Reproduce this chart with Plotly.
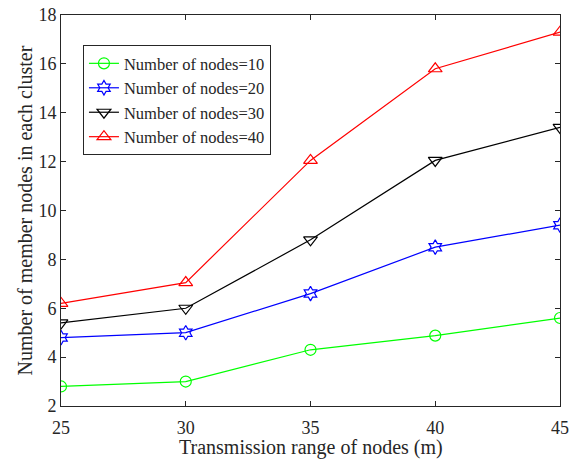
import plotly.graph_objects as go

# Transmission range of nodes (m)
ranges = [25, 30, 35, 40, 45]

# Average number of member nodes per cluster for each network size
nodes_10 = [2.8, 3.0, 4.3, 4.88, 5.6]
nodes_20 = [4.8, 5.0, 6.6, 8.5, 9.4]
nodes_30 = [5.4, 6.0, 8.8, 12.05, 13.4]
nodes_40 = [6.2, 7.05, 12.05, 15.8, 17.3]

series = [
    ("Number of nodes=10", nodes_10, "#00ff00", "circle-open", 11),
    ("Number of nodes=20", nodes_20, "#0000ff", "hexagram-open", 11),
    ("Number of nodes=30", nodes_30, "#000000", "triangle-down-open", 12),
    ("Number of nodes=40", nodes_40, "#ff0000", "triangle-up-open", 12),
]

FONT = "Liberation Serif, Times New Roman, serif"
INK = "#262626"

fig = go.Figure()
for name, vals, color, symbol, size in series:
    fig.add_trace(go.Scatter(
        x=ranges, y=vals, name=name, mode="lines+markers",
        line=dict(color=color, width=1.2),
        marker=dict(symbol=symbol, size=size, color=color,
                    line=dict(color=color, width=1.2)),
    ))

axis_common = dict(
    showgrid=False, zeroline=False, showline=True, linecolor=INK,
    linewidth=1, mirror="ticks", ticks="inside", ticklen=5,
    tickcolor=INK, tickfont=dict(family=FONT, size=18, color=INK),
    automargin=False,
)

fig.update_layout(
    width=581, height=460,
    margin=dict(l=61, r=21, t=15, b=54),
    paper_bgcolor="white", plot_bgcolor="white",
    font=dict(family=FONT, color=INK),
    xaxis=dict(range=[25, 45], tickvals=[25, 30, 35, 40, 45],
               ticklabelstandoff=5, **axis_common),
    yaxis=dict(range=[2, 18], tickvals=list(range(2, 19, 2)),
               **axis_common),
    legend=dict(x=0.044, y=0.923, xanchor="left", yanchor="top",
                bgcolor="white", bordercolor=INK, borderwidth=1,
                font=dict(family=FONT, size=16.5, color=INK),
                tracegroupgap=0, itemwidth=30),
    showlegend=True,
)

# Axis titles placed as annotations for precise positioning
fig.add_annotation(text="Transmission range of nodes (m)", xref="paper", yref="paper",
                   x=0.5, y=0, xanchor="center", yanchor="middle", yshift=-41,
                   showarrow=False, font=dict(family=FONT, size=20, color=INK))
fig.add_annotation(text="Number of member nodes in each cluster", xref="paper", yref="paper",
                   x=0, y=0.5, xanchor="center", yanchor="middle", xshift=-37,
                   textangle=-90, showarrow=False,
                   font=dict(family=FONT, size=20, color=INK))

fig.write_html("out.html")
